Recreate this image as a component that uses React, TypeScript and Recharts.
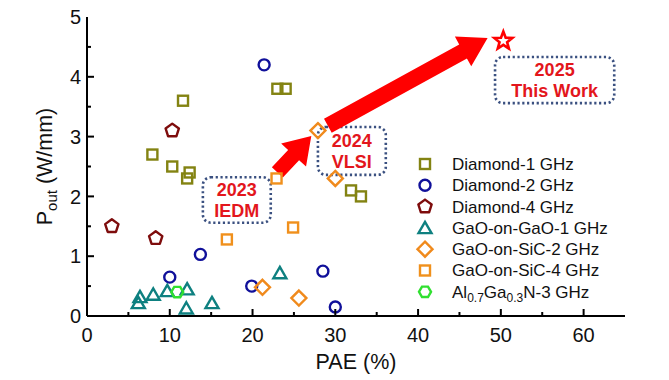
import React from 'react'
import { ScatterChart, Scatter, XAxis, YAxis, ReferenceLine, ReferenceArea } from 'recharts'

document.body.style.margin = '0'

type Pt = { x: number; y: number }

// PAE (%) vs Pout (W/mm)
const diamond1GHz: Pt[] = [
  { x: 7.9, y: 2.7 }, { x: 10.3, y: 2.5 }, { x: 11.6, y: 3.6 }, { x: 12.1, y: 2.3 },
  { x: 12.4, y: 2.4 }, { x: 23.0, y: 3.8 }, { x: 24.0, y: 3.8 }, { x: 31.9, y: 2.1 },
  { x: 33.1, y: 2.0 },
]
const diamond2GHz: Pt[] = [
  { x: 10.0, y: 0.65 }, { x: 13.7, y: 1.03 }, { x: 19.9, y: 0.5 }, { x: 21.4, y: 4.2 },
  { x: 28.5, y: 0.75 }, { x: 30.0, y: 0.15 },
]
const diamond4GHz: Pt[] = [{ x: 3.0, y: 1.5 }, { x: 8.3, y: 1.3 }, { x: 10.3, y: 3.1 }]
const gaoGaO1GHz: Pt[] = [
  { x: 6.2, y: 0.22 }, { x: 6.4, y: 0.32 }, { x: 8.0, y: 0.36 }, { x: 9.7, y: 0.42 },
  { x: 12.1, y: 0.45 }, { x: 12.0, y: 0.13 }, { x: 15.1, y: 0.22 }, { x: 23.3, y: 0.72 },
]
const gaoSiC2GHz: Pt[] = [{ x: 21.2, y: 0.48 }, { x: 25.6, y: 0.3 }, { x: 27.9, y: 3.1 }, { x: 30.0, y: 2.3 }]
const gaoSiC4GHz: Pt[] = [{ x: 16.9, y: 1.28 }, { x: 22.9, y: 2.3 }, { x: 24.9, y: 1.48 }]
const alGaN3GHz: Pt[] = [{ x: 10.9, y: 0.4 }]
const thisWork: Pt[] = [{ x: 50.3, y: 4.6 }]

const xTicks = [0, 5, 10, 15, 20, 25, 30, 35, 40, 45, 50, 55, 60, 65]
const yTicks = [0, 0.5, 1, 1.5, 2, 2.5, 3, 3.5, 4, 4.5, 5]

const FONT = "Arial, 'Liberation Sans', sans-serif"

type Kind = 'square' | 'circle' | 'pentagon' | 'triangle' | 'diamond' | 'hexagon' | 'star'

const series: { name: React.ReactNode; data: Pt[]; kind: Kind; color: string }[] = [
  { name: 'Diamond-1 GHz', data: diamond1GHz, kind: 'square', color: '#838312' },
  { name: 'Diamond-2 GHz', data: diamond2GHz, kind: 'circle', color: '#10109a' },
  { name: 'Diamond-4 GHz', data: diamond4GHz, kind: 'pentagon', color: '#7e0c0c' },
  { name: 'GaO-on-GaO-1 GHz', data: gaoGaO1GHz, kind: 'triangle', color: '#0e8080' },
  { name: 'GaO-on-SiC-2 GHz', data: gaoSiC2GHz, kind: 'diamond', color: '#f08a1c' },
  { name: 'GaO-on-SiC-4 GHz', data: gaoSiC4GHz, kind: 'square', color: '#f0901c' },
  {
    name: (
      <>
        Al<tspan fontSize={12} dy={4}>0.7</tspan>
        <tspan dy={-4}>Ga</tspan>
        <tspan fontSize={12} dy={4}>0.3</tspan>
        <tspan dy={-4}>N-3 GHz</tspan>
      </>
    ),
    data: alGaN3GHz,
    kind: 'hexagon',
    color: '#30e030',
  },
]

function poly(cx: number, cy: number, n: number, r: number, rot: number) {
  const pts: string[] = []
  for (let i = 0; i < n; i++) {
    const a = rot + (i * 2 * Math.PI) / n
    pts.push(`${cx + r * Math.cos(a)},${cy + r * Math.sin(a)}`)
  }
  return pts.join(' ')
}

function starPts(cx: number, cy: number, ro: number, ri: number) {
  const pts: string[] = []
  for (let i = 0; i < 10; i++) {
    const r = i % 2 === 0 ? ro : ri
    const a = -Math.PI / 2 + (i * Math.PI) / 5
    pts.push(`${cx + r * Math.cos(a)},${cy + r * Math.sin(a)}`)
  }
  return pts.join(' ')
}

function Marker({ kind, cx, cy, color }: { kind: Kind; cx: number; cy: number; color: string }) {
  const common = { fill: 'none', stroke: color, strokeWidth: 2.4 }
  switch (kind) {
    case 'square':
      return <rect x={cx - 5} y={cy - 5} width={10} height={10} {...common} />
    case 'circle':
      return <circle cx={cx} cy={cy} r={5.5} {...common} />
    case 'pentagon':
      return <polygon points={poly(cx, cy, 5, 7, -Math.PI / 2)} {...common} strokeLinejoin="round" />
    case 'triangle':
      return <polygon points={poly(cx, cy + 1.5, 3, 7.5, -Math.PI / 2)} {...common} />
    case 'diamond':
      return <polygon points={poly(cx, cy, 4, 7.5, -Math.PI / 2)} {...common} />
    case 'hexagon':
      return <polygon points={poly(cx, cy, 6, 6, 0)} {...common} />
    case 'star':
      return <polygon points={starPts(cx, cy, 9.5, 4)} fill="#fff" stroke={color} strokeWidth={2.6} />
  }
}

const BottomTick = (p: any) => {
  const v = p.payload.value
  const ay = p.y - 12
  const major = v % 10 === 0
  return (
    <g>
      {v > 0 && v < 65 && <line x1={p.x} x2={p.x} y1={ay} y2={ay - (major ? 7 : 4)} stroke="#000" strokeWidth={2} />}
      {major && (
        <text x={p.x} y={p.y} dy="0.71em" textAnchor="middle" fontSize={20} fill="#111" fontFamily={FONT}>
          {v}
        </text>
      )}
    </g>
  )
}

const TopTick = (p: any) => {
  const v = p.payload.value
  const major = v % 10 === 0
  if (v <= 0 || v >= 65) return <g />
  return <line x1={p.x} x2={p.x} y1={p.y} y2={p.y + (major ? 7 : 4)} stroke="#000" strokeWidth={2} />
}

const LeftTick = (p: any) => {
  const v = p.payload.value
  const ax = p.x + 6
  const major = Number.isInteger(v)
  return (
    <g>
      {v > 0 && v < 5 && <line x1={ax} x2={ax + (major ? 7 : 4)} y1={p.y} y2={p.y} stroke="#000" strokeWidth={2} />}
      {major && (
        <text x={p.x} y={p.y} dy="0.355em" textAnchor="end" fontSize={20} fill="#111" fontFamily={FONT}>
          {v}
        </text>
      )}
    </g>
  )
}

const RightTick = (p: any) => {
  const v = p.payload.value
  const major = Number.isInteger(v)
  if (v <= 0 || v >= 5) return <g />
  return <line x1={p.x} x2={p.x - (major ? 7 : 4)} y1={p.y} y2={p.y} stroke="#000" strokeWidth={2} />
}

const arrowShape = (w: number, H: number, h: number) => (p: any) => {
  const { x1, y1, x2, y2 } = p
  const L = Math.hypot(x2 - x1, y2 - y1)
  const ux = (x2 - x1) / L
  const uy = (y2 - y1) / L
  const nx = -uy
  const ny = ux
  const bx = x2 - ux * h
  const by = y2 - uy * h
  const pts = [
    [x1 + nx * w, y1 + ny * w],
    [bx + nx * w, by + ny * w],
    [bx + nx * H, by + ny * H],
    [x2, y2],
    [bx - nx * H, by - ny * H],
    [bx - nx * w, by - ny * w],
    [x1 - nx * w, y1 - ny * w],
  ]
  return <polygon points={pts.map((q) => q.join(',')).join(' ')} fill="#ff0000" stroke="none" />
}

const boxShape = (lines: string[]) => (p: any) => {
  const { x, y, width, height } = p
  const cx = x + width / 2
  const cy = y + height / 2
  return (
    <g>
      <rect
        x={x}
        y={y}
        width={width}
        height={height}
        rx={8}
        fill="none"
        stroke="#3a5080"
        strokeWidth={2.6}
        strokeDasharray="2.2 2.6"
      />
      <text x={cx} y={cy - 10} dy="0.35em" textAnchor="middle" fontSize={18} fontWeight="bold" fill="#e3161c" fontFamily={FONT}>
        {lines[0]}
      </text>
      <text x={cx} y={cy + 11} dy="0.35em" textAnchor="middle" fontSize={18} fontWeight="bold" fill="#e3161c" fontFamily={FONT}>
        {lines[1]}
      </text>
    </g>
  )
}

const YLabel = (p: any) => {
  const vb = p.viewBox
  const cy = vb.y + vb.height / 2
  const x = 52
  return (
    <text
      transform={`rotate(-90, ${x}, ${cy})`}
      x={x}
      y={cy}
      textAnchor="middle"
      fontSize={21.5}
      fill="#111"
      fontFamily={FONT}
    >
      P<tspan fontSize={15} dy={5}>out</tspan>
      <tspan dy={-5}> (W/mm)</tspan>
    </text>
  )
}

function LegendBox() {
  return (
    <svg width={230} height={160} style={{ position: 'absolute', left: 415, top: 152 }}>
      {series.map((s, i) => {
        const cy = 12 + i * 21.3
        return (
          <g key={i}>
            <Marker kind={s.kind} cx={10} cy={cy} color={s.color} />
            <text x={37} y={cy} dy="0.35em" fontSize={17} fill="#111" fontFamily={FONT}>
              {s.name}
            </text>
          </g>
        )
      })}
    </svg>
  )
}

export default function App() {
  return (
    <div style={{ position: 'relative', width: 669, height: 380, background: '#fff' }}>
      <ScatterChart width={669} height={380} margin={{ top: 17, right: 44, bottom: 0, left: 0 }}>
        <XAxis
          type="number"
          dataKey="x"
          domain={[0, 65]}
          ticks={xTicks}
          interval={0}
          height={64}
          tickSize={0}
          tickMargin={12}
          tick={BottomTick}
          axisLine={{ stroke: '#000', strokeWidth: 2 }}
          label={{ value: 'PAE (%)', position: 'insideBottom', offset: 11, fontSize: 21.5, fill: '#111', fontFamily: FONT }}
        />
        <XAxis
          xAxisId="top"
          orientation="top"
          type="number"
          domain={[0, 65]}
          ticks={xTicks}
          interval={0}
          height={0}
          tickSize={0}
          tickMargin={0}
          tick={TopTick}
          axisLine={{ stroke: '#000', strokeWidth: 2 }}
        />
        <YAxis
          type="number"
          dataKey="y"
          domain={[0, 5]}
          ticks={yTicks}
          interval={0}
          width={87}
          tickSize={0}
          tickMargin={6}
          tick={LeftTick}
          axisLine={{ stroke: '#000', strokeWidth: 2 }}
          label={<YLabel />}
        />
        <YAxis
          yAxisId="right"
          orientation="right"
          type="number"
          domain={[0, 5]}
          ticks={yTicks}
          interval={0}
          width={0}
          tickSize={0}
          tickMargin={0}
          tick={RightTick}
          axisLine={{ stroke: '#000', strokeWidth: 2 }}
        />
        <ReferenceArea x1={14.0} x2={22.2} y1={1.56} y2={2.32} shape={boxShape(['2023', 'IEDM'])} />
        <ReferenceArea x1={27.9} x2={36.1} y1={2.36} y2={3.16} shape={boxShape(['2024', 'VLSI'])} />
        <ReferenceArea x1={49.3} x2={63.7} y1={3.56} y2={4.33} shape={boxShape(['2025', 'This Work'])} />
        <ReferenceLine segment={[{ x: 23.0, y: 2.4 }, { x: 27.1, y: 3.01 }]} shape={arrowShape(7.5, 17, 26)} />
        <ReferenceLine segment={[{ x: 29.1, y: 3.18 }, { x: 48.4, y: 4.65 }]} shape={arrowShape(8, 17, 28)} />
        {series.map((s, i) => (
          <Scatter
            key={i}
            data={s.data}
            isAnimationActive={false}
            shape={(p: any) => <Marker kind={s.kind} cx={p.cx} cy={p.cy} color={s.color} />}
          />
        ))}
        <Scatter
          data={thisWork}
          isAnimationActive={false}
          shape={(p: any) => <Marker kind="star" cx={p.cx} cy={p.cy} color="#ff0000" />}
        />
      </ScatterChart>
      <LegendBox />
    </div>
  )
}
